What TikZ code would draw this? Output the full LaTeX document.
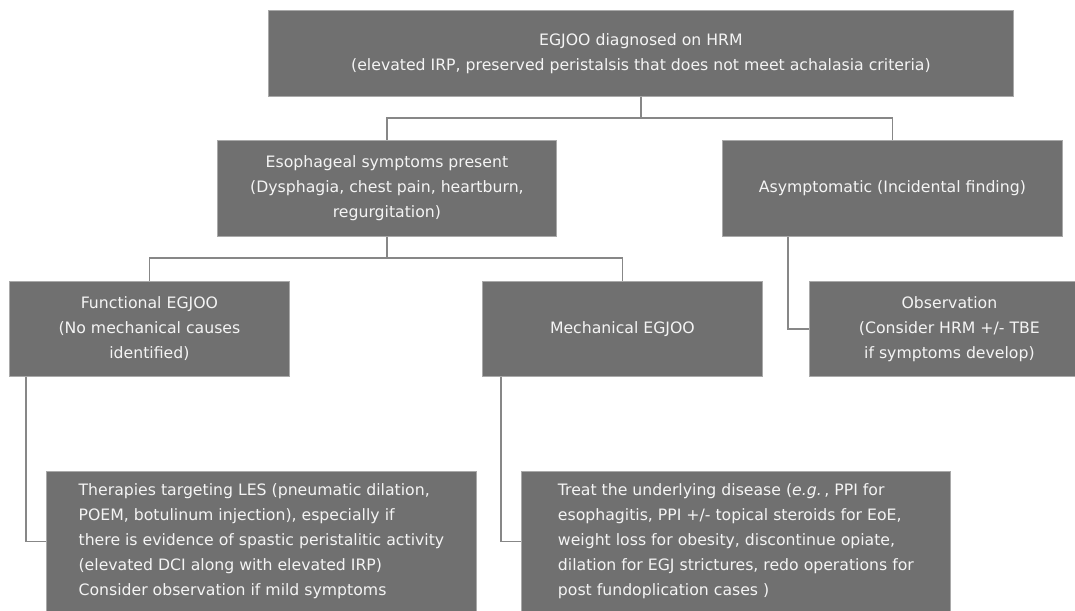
\documentclass[tikz,border=0pt]{standalone}
\usepackage{fontspec}
\setmainfont{DejaVu Sans}
\usepackage{tikz}
\usetikzlibrary{positioning,calc}
\definecolor{boxgray}{HTML}{707070}
\definecolor{edgegray}{HTML}{A9A9A9}
\definecolor{linkgray}{HTML}{878787}
\definecolor{paper}{HTML}{F4F4F4}
\tikzset{
  stage/.style={draw=edgegray, fill=boxgray, text=paper, line width=.8pt, inner sep=0pt,
    anchor=north west, align=center, font=\fontsize{15.7}{25}\selectfont},
  note/.style={stage, align=left},
  link/.style={draw=linkgray, line width=1.6pt}
}

\begin{document}
\begin{tikzpicture}[x=1pt,y=1pt]
  \useasboundingbox (0,0) rectangle (1075,-610);
  \clip (0,0) rectangle (1075,-610);

  \node[stage,minimum width=745pt,minimum height=86pt] (top) at (268,-10)
    {EGJOO diagnosed on HRM\\(elevated IRP, preserved peristalsis that does not meet achalasia criteria)};
  \node[stage,minimum width=339pt,minimum height=96pt] (esoph) at (217,-140)
    {Esophageal symptoms present\\(Dysphagia, chest pain, heartburn,\\regurgitation)};
  \node[stage,minimum width=340pt,minimum height=96pt] (asym) at (722,-140)
    {Asymptomatic (Incidental finding)};

  \node[stage,minimum width=280pt,minimum height=95pt] (func) at (9,-281)
    {Functional EGJOO\\(No mechanical causes\\identified)};
  \node[stage,minimum width=280pt,minimum height=95pt] (mech) at (482,-281)
    {Mechanical EGJOO};
  \node[stage,minimum width=280pt,minimum height=95pt] (obs) at (809,-281)
    {Observation\\(Consider HRM +/- TBE\\if symptoms develop)};

  \node[note,minimum width=430pt,minimum height=140pt] (ther) at (46,-471)
    {Therapies targeting LES (pneumatic dilation,\\POEM, botulinum injection), especially if\\there is evidence of spastic peristalitic activity\\(elevated DCI along with elevated IRP)\\Consider observation if mild symptoms};
  \node[note,minimum width=429pt,minimum height=140pt] (treat) at (521,-471)
    {Treat the underlying disease (\textit{e.g.}\,, PPI for\\esophagitis, PPI +/- topical steroids for EoE,\\weight loss for obesity, discontinue opiate,\\dilation for EGJ strictures, redo operations for\\post fundoplication cases )};

  \foreach \a/\b in {top/esoph,top/asym,esoph/func,esoph/mech}
    \draw[link] (\a.south) -- ++(0,-21) -| (\b.north);
  \foreach \a/\b/\s in {asym/obs/66,func/ther/17,mech/treat/19}
    \draw[link] ([xshift=\s pt]\a.south west) |- (\b.west);
\end{tikzpicture}
\end{document}
